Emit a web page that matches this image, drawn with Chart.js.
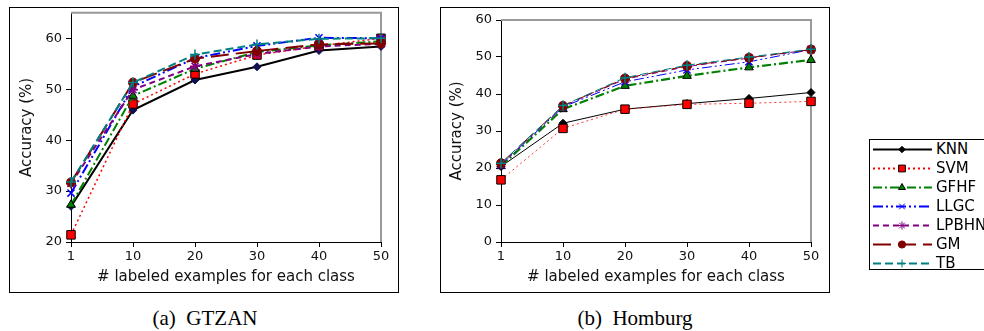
<!DOCTYPE html>
<html><head><meta charset="utf-8">
<script src="https://cdn.jsdelivr.net/npm/chart.js@4/dist/chart.umd.min.js"></script>
<style>
body{margin:0;width:984px;height:331px;background:#fff;position:relative;overflow:hidden;font-family:"DejaVu Sans",sans-serif;}
.box{position:absolute;border:1px solid #000;box-sizing:border-box;}
.cap{position:absolute;font-family:"Liberation Serif",serif;font-size:21px;line-height:24px;color:#000;white-space:pre;text-align:center;}
.holder{position:absolute;}
#legend{position:absolute;left:869px;top:139px;width:130px;height:131px;border:1px solid #000;box-sizing:border-box;background:#fff;}
#legend canvas{position:absolute;left:0;top:0;}
.lt{position:absolute;left:66px;font-size:15px;line-height:18px;color:#000;white-space:nowrap;}
</style></head><body>
<div class="box" style="left:9px;top:7px;width:390px;height:286px"></div>
<div class="box" style="left:440px;top:7px;width:390px;height:286px"></div>
<div class="holder" style="left:10px;top:1px"><canvas id="c1" width="388" height="291"></canvas></div>
<div class="holder" style="left:441px;top:8px"><canvas id="c2" width="388" height="284"></canvas></div>
<div class="cap" style="left:105px;top:306px;width:200px">(a)  GTZAN</div>
<div class="cap" style="left:535px;top:306px;width:200px">(b)  Homburg</div>
<div id="legend"><canvas id="lg" width="66" height="130"></canvas></div>
<script>
// ---- data ----
const categories = ['1', '10', '20', '30', '40', '50'];
const methods = ['KNN', 'SVM', 'GFHF', 'LLGC', 'LPBHN', 'GM', 'TB'];

const gtzanKNN   = [27.0, 45.9, 51.8, 54.4, 57.6, 58.4];
const gtzanSVM   = [21.4, 47.1, 53.0, 56.7, 58.5, 60.0];
const gtzanGFHF  = [27.3, 48.7, 54.0, 57.3, 58.6, 59.4];
const gtzanLLGC  = [29.6, 50.5, 56.1, 58.5, 60.1, 60.0];
const gtzanLPBHN = [31.5, 49.9, 54.5, 56.9, 58.4, 58.9];
const gtzanGM    = [31.7, 51.3, 56.0, 57.5, 58.8, 59.0];
const gtzanTB    = [31.8, 51.3, 56.8, 58.8, 59.9, 60.0];

const homKNN   = [20.4, 32.1, 35.9, 37.4, 38.8, 40.4];
const homSVM   = [16.8, 30.7, 35.9, 37.2, 37.5, 38.0];
const homGFHF  = [20.5, 35.9, 42.2, 44.9, 47.2, 49.2];
const homLLGC  = [20.8, 36.5, 43.3, 46.5, 48.7, 52.0];
const homLPBHN = [21.0, 36.7, 44.0, 47.4, 49.7, 52.0];
const homGM    = [21.3, 36.8, 44.2, 47.6, 49.8, 52.0];
const homTB    = [21.3, 36.9, 44.4, 47.8, 50.0, 52.1];

const gtzanTicks = [20, 30, 40, 50, 60];
const homTicks = [0, 10, 20, 30, 40, 50, 60];

// ---- styles ----
const styles = {
  KNN:   {color:'#000000', dash:[], marker:'rectRot', r:4, fill:'#101050', edge:'#101050'},
  SVM:   {color:'#ff0000', dash:[2,3], marker:'rect', r:6, fill:'#ff0000', edge:'#000000'},
  GFHF:  {color:'#008000', dash:[9,3,2,3], marker:'triangle', r:5, fill:'#008000', edge:'#000000'},
  LLGC:  {color:'#0000ff', dash:[10,3,2,3,2,3], marker:'crossRot', r:5, fill:'#0000ff', edge:'#0000ff'},
  LPBHN: {color:'#800080', dash:[6,4], marker:'star', r:5, fill:'#800080', edge:'#800080'},
  GM:    {color:'#800000', dash:[18,7], marker:'circle', r:4.5, fill:'#800000', edge:'#800000'},
  TB:    {color:'#008080', dash:[8,4], marker:'cross', r:5, fill:'#008080', edge:'#008080'}
};

function makeDatasets(series, widths, knnFill) {
  return methods.map((m, i) => {
    const s = styles[m];
    return {
      label: m,
      data: series[i],
      borderColor: s.color,
      borderDash: s.dash,
      borderWidth: widths[i],
      pointStyle: s.marker,
      pointRadius: s.r,
      pointBackgroundColor: (m === 'KNN' && knnFill) ? knnFill : s.fill,
      pointBorderColor: (m === 'KNN' && knnFill) ? knnFill : s.edge,
      pointBorderWidth: (s.marker === 'crossRot' || s.marker === 'cross' || s.marker === 'star') ? 1.5 : 1,
      tension: 0,
      fill: false,
      clip: false,
      order: methods.length - i
    };
  });
}

const spines = {
  id: 'spines',
  beforeDatasetsDraw(chart) {
    const a = chart.chartArea, ctx = chart.ctx;
    ctx.save();
    ctx.strokeStyle = '#999999';
    ctx.lineWidth = 2;
    ctx.beginPath();
    ctx.moveTo(a.left, a.top);
    ctx.lineTo(a.right, a.top);
    ctx.lineTo(a.right, a.bottom);
    ctx.stroke();
    ctx.restore();
  }
};

function makeChart(id, datasets, ymin, ymax, tickVals, pad, yWidth) {
  return new Chart(document.getElementById(id), {
    type: 'line',
    data: { labels: categories, datasets },
    plugins: [spines],
    options: {
      responsive: false,
      animation: false,
      events: [],
      layout: { padding: pad },
      plugins: { legend: { display: false }, tooltip: { enabled: false } },
      scales: {
        x: {
          type: 'category',
          offset: false,
          grid: { display: true, drawOnChartArea: false, drawTicks: true, tickLength: 5, color: '#000' },
          border: { display: true, color: '#000', width: 1 },
          ticks: { color: '#111', font: { family: 'DejaVu Sans', size: 13 }, padding: 2, maxRotation: 0 },
          title: { display: true, text: '# labeled examples for each class', color: '#111',
                   font: { family: 'DejaVu Sans', size: 15 }, padding: { top: 2, bottom: 4 } },
          afterFit(s) { s.height = 48; }
        },
        y: {
          min: ymin, max: ymax,
          grid: { display: true, drawOnChartArea: false, drawTicks: true, tickLength: 5, color: '#000' },
          border: { display: true, color: '#000', width: 1 },
          afterBuildTicks(s) { s.ticks = tickVals.map(v => ({ value: v })); },
          ticks: { color: '#111', font: { family: 'DejaVu Sans', size: 13 }, padding: 4 },
          title: { display: true, text: 'Accuracy (%)', color: '#111',
                   font: { family: 'DejaVu Sans', size: 15 }, padding: { top: 4, bottom: 4 } },
          afterFit(s) { s.width = yWidth; }
        }
      }
    }
  });
}

makeChart('c1',
  makeDatasets([gtzanKNN, gtzanSVM, gtzanGFHF, gtzanLLGC, gtzanLPBHN, gtzanGM, gtzanTB],
               [2, 1.5, 2, 2, 2, 2, 2], '#101050'),
  20, 65, gtzanTicks, { left: 4, top: 5, right: 17, bottom: 2 }, 57);

makeChart('c2',
  makeDatasets([homKNN, homSVM, homGFHF, homLLGC, homLPBHN, homGM, homTB],
               [1, 0.8, 2.2, 1, 1, 1, 1], '#000000'),
  0, 60, homTicks, { left: 3, top: 12, right: 18, bottom: 2 }, 57);

// ---- legend (key samples) ----
(function () {
  const lg = document.getElementById('legend');
  const ctx = document.getElementById('lg').getContext('2d');
  methods.forEach((m, i) => {
    const s = styles[m];
    const y = 9 + i * 19;
    ctx.save();
    ctx.strokeStyle = s.color;
    ctx.lineWidth = 2;
    ctx.setLineDash(s.dash);
    ctx.beginPath();
    ctx.moveTo(3, y + 0.5);
    ctx.lineTo(62, y + 0.5);
    ctx.stroke();
    ctx.setLineDash([]);
    ctx.fillStyle = (m === 'KNN') ? '#000' : s.fill;
    ctx.strokeStyle = (m === 'KNN') ? '#000' : s.edge;
    ctx.lineWidth = 1;
    Chart.helpers.drawPoint(ctx, { pointStyle: s.marker, radius: s.r * 0.8, borderWidth: 1 }, 32, y + 0.5);
    ctx.restore();
    const t = document.createElement('div');
    t.className = 'lt';
    t.style.top = (y - 9) + 'px';
    t.textContent = m;
    lg.appendChild(t);
  });
})();
</script>
</body></html>
